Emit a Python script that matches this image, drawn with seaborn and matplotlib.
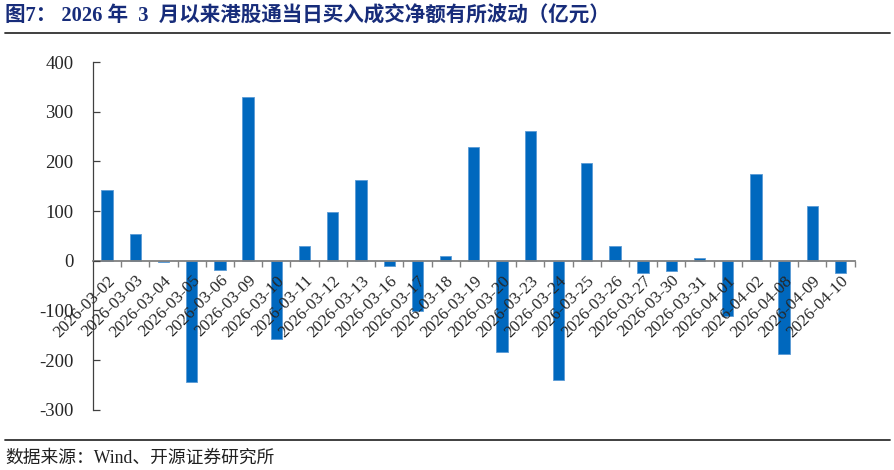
import numpy as np
import pandas as pd
import matplotlib.pyplot as plt
import seaborn as sns

dates = ["2026-03-02", "2026-03-03", "2026-03-04", "2026-03-05", "2026-03-06",
         "2026-03-09", "2026-03-10", "2026-03-11", "2026-03-12", "2026-03-13",
         "2026-03-16", "2026-03-17", "2026-03-18", "2026-03-19", "2026-03-20",
         "2026-03-23", "2026-03-24", "2026-03-25", "2026-03-26", "2026-03-27",
         "2026-03-30", "2026-03-31", "2026-04-01", "2026-04-02", "2026-04-08",
         "2026-04-09", "2026-04-10"]
net_buy = [143, 54, -3, -244, -19, 330, -158, 30, 99, 163, -11, -101, 10, 230,
           -184, 262, -240, 197, 29, -25, -21, 5, -112, 174, -188, 110, -24]
y_ticks = [-300, -200, -100, 0, 100, 200, 300, 400]

title = "图7： 2026 年  3  月以来港股通当日买入成交净额有所波动（亿元）"
source = "数据来源：Wind、开源证券研究所"

df = pd.DataFrame({"date": dates, "value": net_buy})

sns.set_style("white")
plt.rcParams["font.family"] = ["Liberation Serif", "Noto Sans CJK SC", "DejaVu Sans"]

fig = plt.figure(figsize=(8.94, 4.70), dpi=100)
ax = fig.add_axes([0.104, 0.128, 0.852, 0.74])

sns.barplot(data=df, x="date", y="value", color="#0068BE", width=0.4,
            edgecolor="#5B9BD5", linewidth=0.6, saturation=1, ax=ax)
ax.set_axisbelow(False)  # tick labels sit on top of the bars

ax.set_xlim(-0.5, len(dates) - 0.5)
ax.set_ylim(-300, 400)
ax.set_yticks(y_ticks)
ax.set_yticklabels([str(t) for t in y_ticks], fontsize=13.5)
ax.set_xlabel("")
ax.set_ylabel("")

ax.spines["top"].set_visible(False)
ax.spines["right"].set_visible(False)
ax.spines["bottom"].set_position(("data", 0))
ax.spines["bottom"].set_color("#808080")
ax.spines["bottom"].set_linewidth(1.3)
ax.spines["left"].set_color("#404040")
ax.spines["left"].set_linewidth(0.9)

ax.tick_params(axis="y", left=True, direction="in", length=5, width=0.9,
               color="#404040", pad=14)
ax.set_xticks(range(len(dates)))
ax.set_xticklabels(dates, rotation=45, ha="right", rotation_mode="anchor", fontsize=12.3)
ax.tick_params(axis="x", which="major", bottom=True, length=0, pad=8.5)
ax.set_xticks(np.arange(0.5, len(dates), 1.0), minor=True)
ax.tick_params(axis="x", which="minor", bottom=True, direction="out", length=4,
               width=1, color="#808080")

fig.text(0.006, 0.965, title, fontsize=14.8, fontweight="bold", color="#172C7A",
         family=["Liberation Serif", "Noto Sans CJK SC"], va="center", ha="left")
fig.add_artist(plt.Line2D([0.006, 0.995], [0.93, 0.93], color="#303030", lw=1.3))
fig.add_artist(plt.Line2D([0.006, 0.995], [0.064, 0.064], color="#303030", lw=1.3))
fig.text(0.006, 0.026, source, fontsize=12.8, color="#202020",
         family=["Liberation Serif", "Noto Sans CJK SC"], va="center", ha="left")

fig.savefig("out.png", dpi=100)
